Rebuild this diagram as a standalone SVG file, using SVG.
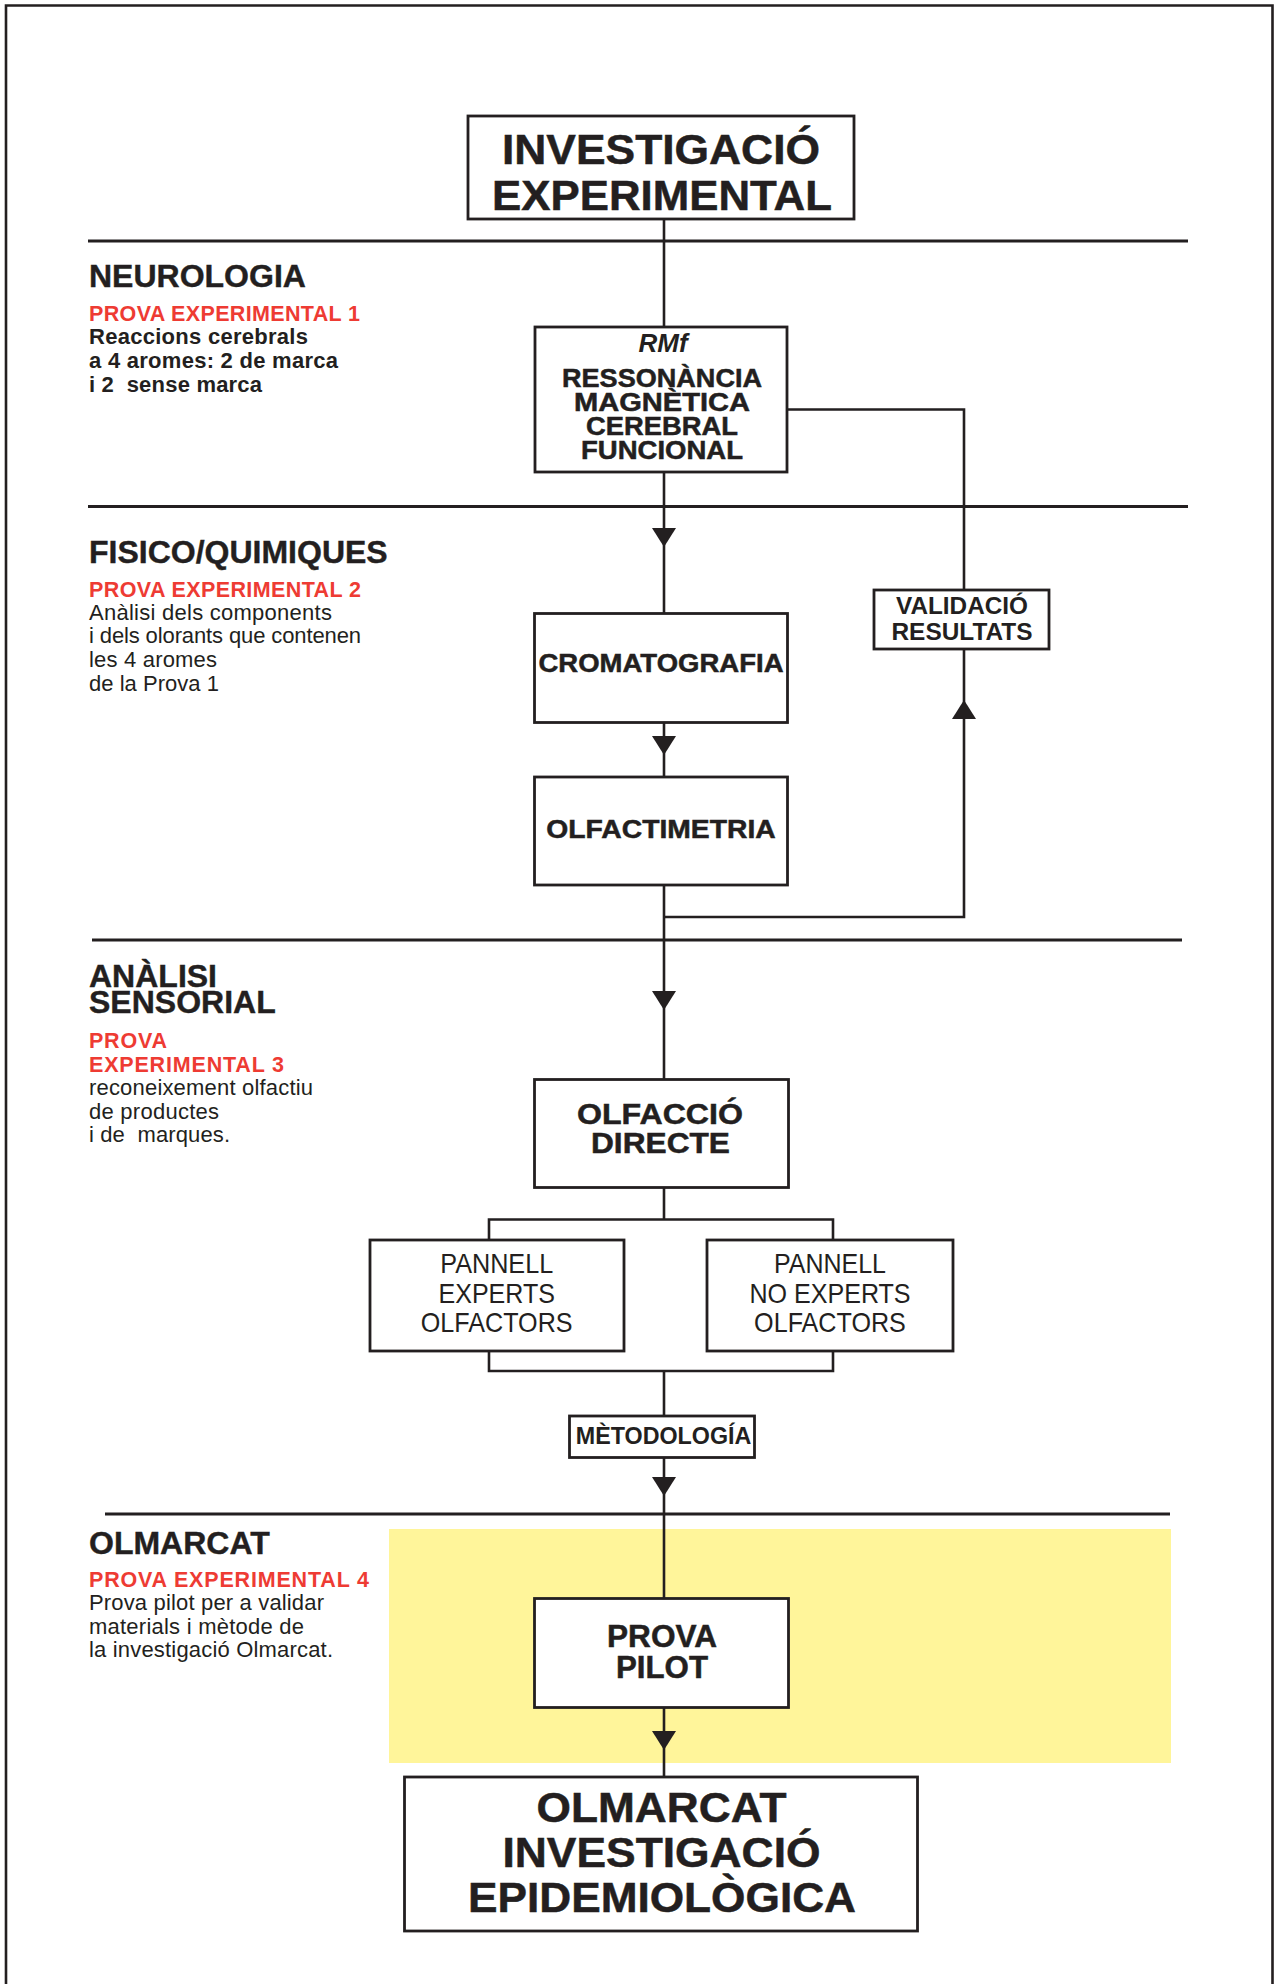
<svg xmlns="http://www.w3.org/2000/svg" width="1276" height="1984" viewBox="0 0 1276 1984">
<style>
  text{font-family:"Liberation Sans",Arial,Helvetica,sans-serif;fill:#231F20}
  .b{font-weight:bold}
  .k{stroke:#231F20;stroke-width:0.5}
  .h{font-weight:bold;font-size:32px;stroke:#231F20;stroke-width:0.4}
  .red{font-weight:bold;font-size:21.5px;fill:#EE3B33}
  .body{font-size:22px}
  .c{text-anchor:middle}
  .box{fill:#FFFFFF;stroke:#231F20;stroke-width:2.8}
  .rule{stroke:#231F20;stroke-width:2.8;fill:none}
  .con{stroke:#231F20;stroke-width:2.6;fill:none}
  .arr{fill:#231F20}
</style>
<defs>
  <path id="arrDown" d="M-12,-19 L12,-19 L0,0 Z"/>
  <path id="arrUp" d="M-12,19 L12,19 L0,0 Z"/>
</defs>
<rect width="1276" height="1984" fill="#FFFFFF"/>
<path d="M6,1984 V5.5 H1272.5 V1984" fill="none" stroke="#231F20" stroke-width="2.6"/>
<rect id="highlight" x="389" y="1529" width="782" height="234" fill="#FFF59A"/>

<g id="rules">
  <line class="rule" x1="88" y1="241" x2="1188" y2="241"/>
  <line class="rule" x1="88" y1="506.5" x2="1188" y2="506.5"/>
  <line class="rule" x1="92" y1="940" x2="1182" y2="940"/>
  <line class="rule" x1="105" y1="1514" x2="1170" y2="1514"/>
</g>

<g id="connectors">
  <path class="con" d="M664,219 V327"/>
  <path class="con" d="M664,472 V613.5"/>
  <path class="con" d="M664,722.5 V777"/>
  <path class="con" d="M664,885 V1079.5"/>
  <path class="con" d="M664,1187.5 V1219.5"/>
  <path class="con" d="M489,1240 V1219.5 H833 V1240"/>
  <path class="con" d="M489,1351 V1371 H833 V1351"/>
  <path class="con" d="M664,1371 V1416"/>
  <path class="con" d="M664,1457.5 V1598.5"/>
  <path class="con" d="M664,1707.5 V1777"/>
  <path class="con" d="M787,409.5 H964 V590"/>
  <path class="con" d="M964,649 V917 H664"/>
  <use href="#arrDown" class="arr" x="664" y="547"/>
  <use href="#arrDown" class="arr" x="664" y="755"/>
  <use href="#arrDown" class="arr" x="664" y="1010"/>
  <use href="#arrDown" class="arr" x="664" y="1496"/>
  <use href="#arrDown" class="arr" x="664" y="1750"/>
  <use href="#arrUp" class="arr" x="964" y="700"/>
</g>

<g id="sec-neurologia">
  <text class="h" x="89" y="286.7">NEUROLOGIA</text>
  <text class="red" x="89" y="320.7" textLength="271">PROVA EXPERIMENTAL 1</text>
  <text class="body b" x="89" y="344" textLength="219">Reaccions cerebrals</text>
  <text class="body b" x="89" y="367.7" textLength="249">a 4 aromes: 2 de marca</text>
  <text class="body b" x="89" y="391.7" textLength="173" xml:space="preserve">i 2  sense marca</text>
</g>

<g id="sec-fisico">
  <text class="h" x="89" y="562.7">FISICO/QUIMIQUES</text>
  <text class="red" x="89" y="596.7" textLength="272">PROVA EXPERIMENTAL 2</text>
  <text class="body" x="89" y="620" textLength="243">Anàlisi dels components</text>
  <text class="body" x="89" y="643.3" textLength="272">i dels olorants que contenen</text>
  <text class="body" x="89" y="666.7" textLength="128">les 4 aromes</text>
  <text class="body" x="89" y="690.7" textLength="130">de la Prova 1</text>
</g>

<g id="sec-sensorial">
  <text class="h" x="89" y="986.7">ANÀLISI</text>
  <text class="h" x="89" y="1013.3">SENSORIAL</text>
  <text class="red" x="89" y="1048.3" textLength="78">PROVA</text>
  <text class="red" x="89" y="1071.7" textLength="195">EXPERIMENTAL 3</text>
  <text class="body" x="89" y="1095" textLength="224">reconeixement olfactiu</text>
  <text class="body" x="89" y="1118.7" textLength="130">de productes</text>
  <text class="body" x="89" y="1141.7" textLength="141" xml:space="preserve">i de  marques.</text>
</g>

<g id="sec-olmarcat">
  <text class="h" x="89" y="1554">OLMARCAT</text>
  <text class="red" x="89" y="1586.7" textLength="280">PROVA EXPERIMENTAL 4</text>
  <text class="body" x="89" y="1610" textLength="235">Prova pilot per a validar</text>
  <text class="body" x="89" y="1634" textLength="215">materials i mètode de</text>
  <text class="body" x="89" y="1657.3" textLength="244">la investigació Olmarcat.</text>
</g>

<g id="node-investigacio">
  <rect class="box" x="468" y="116" width="386" height="103"/>
  <text class="b c k" x="661" y="164" font-size="43" textLength="318" lengthAdjust="spacingAndGlyphs">INVESTIGACIÓ</text>
  <text class="b c k" x="662" y="209.5" font-size="43" textLength="340" lengthAdjust="spacingAndGlyphs">EXPERIMENTAL</text>
</g>

<g id="node-rmf">
  <rect class="box" x="535" y="327" width="252" height="145"/>
  <text class="b c" x="663" y="352" font-size="26" font-style="italic">RMf</text>
  <text class="b c k" x="662" y="387" font-size="26" textLength="200" lengthAdjust="spacingAndGlyphs">RESSONÀNCIA</text>
  <text class="b c k" x="662" y="411" font-size="26" textLength="176" lengthAdjust="spacingAndGlyphs">MAGNÈTICA</text>
  <text class="b c k" x="662" y="435" font-size="26" textLength="152" lengthAdjust="spacingAndGlyphs">CEREBRAL</text>
  <text class="b c k" x="662" y="459" font-size="26" textLength="162" lengthAdjust="spacingAndGlyphs">FUNCIONAL</text>
</g>

<g id="node-validacio">
  <rect class="box" x="874" y="590" width="175" height="59"/>
  <text class="b c" x="962" y="614" font-size="23" textLength="132" lengthAdjust="spacingAndGlyphs">VALIDACIÓ</text>
  <text class="b c" x="962" y="640" font-size="23" textLength="141" lengthAdjust="spacingAndGlyphs">RESULTATS</text>
</g>

<g id="node-cromatografia">
  <rect class="box" x="534.5" y="613.5" width="253" height="109"/>
  <text class="b c k" x="661" y="671.7" font-size="26" textLength="245" lengthAdjust="spacingAndGlyphs">CROMATOGRAFIA</text>
</g>

<g id="node-olfactimetria">
  <rect class="box" x="534.5" y="777" width="253" height="108"/>
  <text class="b c k" x="661" y="837.7" font-size="26" textLength="229.5" lengthAdjust="spacingAndGlyphs">OLFACTIMETRIA</text>
</g>

<g id="node-olfaccio">
  <rect class="box" x="534.5" y="1079.5" width="254" height="108"/>
  <text class="b c k" x="660" y="1124" font-size="29" textLength="166" lengthAdjust="spacingAndGlyphs">OLFACCIÓ</text>
  <text class="b c k" x="660.5" y="1152.7" font-size="29" textLength="139" lengthAdjust="spacingAndGlyphs">DIRECTE</text>
</g>

<g id="node-experts">
  <rect class="box" x="370" y="1240" width="254" height="111"/>
  <text class="c" x="496.7" y="1273.3" font-size="28" textLength="113" lengthAdjust="spacingAndGlyphs">PANNELL</text>
  <text class="c" x="496.7" y="1302.7" font-size="28" textLength="116.3" lengthAdjust="spacingAndGlyphs">EXPERTS</text>
  <text class="c" x="496.7" y="1331.7" font-size="28" textLength="151.8" lengthAdjust="spacingAndGlyphs">OLFACTORS</text>
</g>

<g id="node-no-experts">
  <rect class="box" x="707" y="1240" width="246" height="111"/>
  <text class="c" x="830" y="1273.3" font-size="28" textLength="112" lengthAdjust="spacingAndGlyphs">PANNELL</text>
  <text class="c" x="830" y="1302.7" font-size="28" textLength="161.2" lengthAdjust="spacingAndGlyphs">NO EXPERTS</text>
  <text class="c" x="830" y="1331.7" font-size="28" textLength="151.8" lengthAdjust="spacingAndGlyphs">OLFACTORS</text>
</g>

<g id="node-metodologia">
  <rect class="box" x="569.5" y="1416" width="185" height="41.5"/>
  <text class="b c" x="663.6" y="1444.3" font-size="23" textLength="175.5" lengthAdjust="spacingAndGlyphs">MÈTODOLOGÍA</text>
</g>

<g id="node-prova-pilot">
  <rect class="box" x="534.5" y="1598.5" width="254" height="109"/>
  <text class="b c k" x="662" y="1647.3" font-size="31" textLength="110" lengthAdjust="spacingAndGlyphs">PROVA</text>
  <text class="b c k" x="662" y="1678.3" font-size="31" textLength="92" lengthAdjust="spacingAndGlyphs">PILOT</text>
</g>

<g id="node-epidemiologica">
  <rect class="box" x="404.5" y="1777" width="513" height="154"/>
  <text class="b c k" x="661.5" y="1821.7" font-size="43" textLength="250" lengthAdjust="spacingAndGlyphs">OLMARCAT</text>
  <text class="b c k" x="661.5" y="1866.7" font-size="43" textLength="318" lengthAdjust="spacingAndGlyphs">INVESTIGACIÓ</text>
  <text class="b c k" x="662" y="1911.7" font-size="43" textLength="388" lengthAdjust="spacingAndGlyphs">EPIDEMIOLÒGICA</text>
</g>
</svg>
